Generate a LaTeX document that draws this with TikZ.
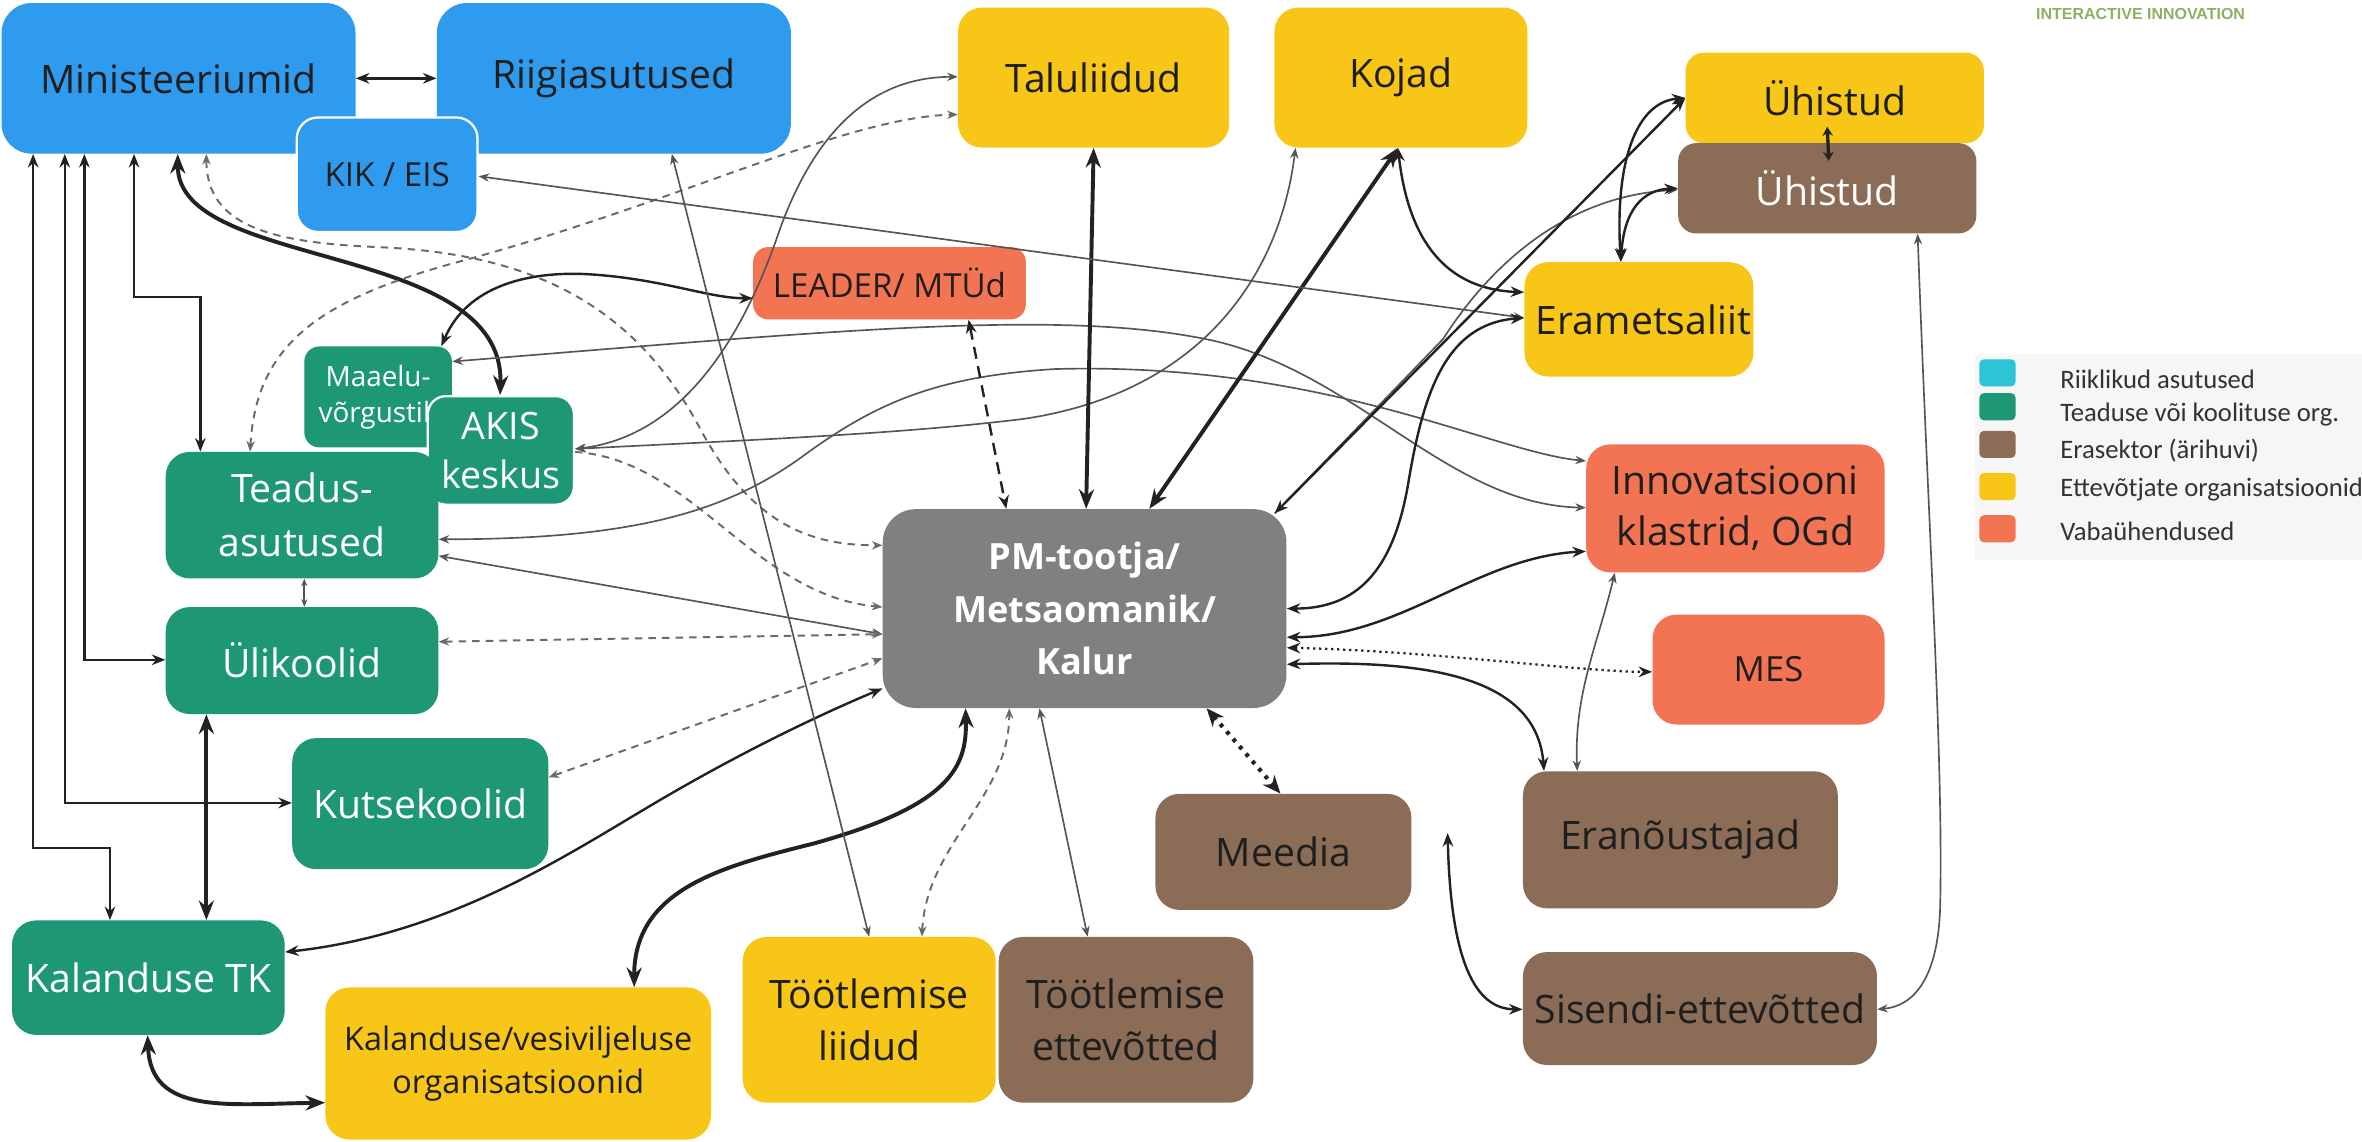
\documentclass[tikz,border=0pt]{standalone}
\usepackage{fontspec}
\setmainfont{Open Sans}
\newfontfamily\legfont{Carlito}
\newfontfamily\hdfont{Liberation Sans}
\usetikzlibrary{arrows.meta,calc}
\definecolor{cBlue}{HTML}{2F9BEE}
\definecolor{cYel}{HTML}{F8C617}
\definecolor{cTeal}{HTML}{1E9775}
\definecolor{cBrown}{HTML}{8B6C56}
\definecolor{cOr}{HTML}{F37452}
\definecolor{cGray}{HTML}{808080}
\definecolor{cCyan}{HTML}{2CC5D5}
\definecolor{cTxt}{HTML}{1E1E1E}
\definecolor{cLine}{HTML}{222222}
\definecolor{cThin}{HTML}{555555}
\definecolor{cDash}{HTML}{6A6A6A}
\definecolor{cHead}{HTML}{8BB163}
\definecolor{cLeg}{HTML}{F6F6F6}
\definecolor{cLegTxt}{HTML}{333333}
\begin{document}
\begin{tikzpicture}[x=1pt,y=-1pt,
 box/.style={rounded corners=16pt, inner sep=0pt, align=center, text=cTxt, font=\fontsize{26}{36}\selectfont},
 wt/.style={text=white},
 lnA/.style={draw=cThin, line width=1.1pt, <->, >={Stealth[length=7pt,width=5.5pt]}},
 lnD/.style={draw=cLine, line width=1.6pt, <->, >={Stealth[length=9pt,width=7pt]}},
 lnT/.style={draw=cLine, line width=2.6pt, <->, >={Stealth[length=13pt,width=10pt]}},
 lnS/.style={draw=cDash, line width=1.3pt, dash pattern=on 5pt off 4pt, >={Stealth[length=7pt,width=5.5pt]}},
 lnDD/.style={draw=cLine, line width=1.6pt, dash pattern=on 8pt off 5pt, <->, >={Stealth[length=9pt,width=7pt]}},
 lnP/.style={draw=cLine, line width=1.5pt, dash pattern=on 1.5pt off 2.5pt, <->, >={Stealth[length=9pt,width=7pt]}},
 lnPT/.style={draw=cLine, line width=2.8pt, dash pattern=on 2.5pt off 4pt, <->, >={Stealth[length=12pt,width=10pt]}},
 sw/.style={rounded corners=3pt, minimum width=24pt, minimum height=18pt, inner sep=0pt},
 legtxt/.style={anchor=west, inner sep=0pt, text=cLegTxt, font=\legfont\fontsize{17.7}{20}\selectfont}
]
\useasboundingbox (0,0) rectangle (1568,757.45);
\fill[white] (0,0) rectangle (1568,757.45);

% ---------- nodes ----------
\node[box, fill=cBlue, rounded corners=20pt, minimum width=235pt, minimum height=100pt] (min) at (118.5,52) {Ministeeriumid};
\node[box, fill=cBlue, rounded corners=20pt, minimum width=235pt, minimum height=100pt] (rii) at (407.5,52) {Riigiasutused};
\node[box, fill=cBlue, draw=white, line width=1.5pt, rounded corners=14pt, minimum width=120pt, minimum height=76pt, font=\fontsize{22}{28}\selectfont] (kik) at (257,116) {KIK / EIS};
\node[box, fill=cYel, minimum width=180pt, minimum height=93pt] (talu) at (726,51.5) {Taluliidud};
\node[box, fill=cYel, minimum width=168pt, minimum height=93pt] (koj) at (930,51.5) {Kojad};
\node[box, fill=cYel, rounded corners=12pt, minimum width=198pt, minimum height=60pt] (uhy) at (1218,65) {Ühistud};
\node[box, fill=cBrown, wt, rounded corners=12pt, minimum width=198pt, minimum height=60pt] (uhb) at (1213,125) {Ühistud};
\node[box, fill=cYel, minimum width=152pt, minimum height=76pt] (era) at (1088,212) {\hspace*{6pt}Erametsaliit};
\node[box, fill=cOr, rounded corners=10pt, minimum width=181pt, minimum height=48pt, font=\fontsize{22}{28}\selectfont] (lea) at (590.5,188) {LEADER/ MTÜd};
\node[box, fill=cTeal, wt, rounded corners=10pt, minimum width=98pt, minimum height=67pt, font=\fontsize{18.5}{24}\selectfont] (maa) at (251,263.5) {Maaelu-\\võrgustik};
\node[box, fill=cTeal, wt, draw=white, line width=1.5pt, rounded corners=12pt, minimum width=97pt, minimum height=72pt, font=\fontsize{25}{33}\selectfont] (aki) at (332.5,299) {AKIS\\keskus};
\node[box, fill=cTeal, wt, minimum width=181pt, minimum height=84pt] (tea) at (200.5,342) {Teadus-\\asutused};
\node[box, fill=cTeal, wt, minimum width=181pt, minimum height=71pt] (uli) at (200.5,438.5) {Ülikoolid};
\node[box, fill=cTeal, wt, minimum width=170pt, minimum height=87pt] (kut) at (279,533.5) {Kutsekoolid};
\node[box, fill=cTeal, wt, minimum width=181pt, minimum height=76pt] (ktk) at (98.5,649) {Kalanduse TK};
\node[box, fill=cYel, minimum width=256pt, minimum height=101pt, font=\fontsize{21.5}{29}\selectfont] (kves) at (344,706) {Kalanduse/vesiviljeluse\\organisatsioonid};
\node[box, fill=cYel, minimum width=168pt, minimum height=110pt, font=\fontsize{26}{34}\selectfont] (tli) at (577,677) {Töötlemise\\liidud};
\node[box, fill=cBrown, minimum width=169pt, minimum height=110pt, font=\fontsize{26}{34}\selectfont] (tet) at (747.5,677) {Töötlemise\\ettevõtted};
\node[box, fill=cBrown, minimum width=170pt, minimum height=77pt] (mee) at (852,565.5) {Meedia};
\node[box, fill=cGray, wt, rounded corners=22pt, minimum width=268pt, minimum height=132pt, font=\bfseries\fontsize{24}{35}\selectfont] (pm) at (720,404) {PM-tootja/\\Metsaomanik/\\Kalur};
\node[box, fill=cOr, minimum width=198pt, minimum height=85pt, font=\fontsize{26}{34}\selectfont] (inn) at (1152,337.5) {Innovatsiooni\\klastrid, OGd};
\node[box, fill=cOr, minimum width=154pt, minimum height=73pt, font=\fontsize{23}{28}\selectfont] (mes) at (1174,444.5) {MES};
\node[box, fill=cBrown, minimum width=209pt, minimum height=91pt] (ern) at (1115.5,557.5) {Eranõustajad};
\node[box, fill=cBrown, minimum width=235pt, minimum height=75pt] (sis) at (1128.5,669.5) {Sisendi-ettevõtted};

% ---------- legend ----------
\node[fill=cLeg, inner sep=0pt, minimum width=257pt, minimum height=137pt] (leg) at (1439.5,303.5) {};
\node[sw, fill=cCyan] (s1) at (1326,247.5) {};
\node[sw, fill=cTeal] (s2) at (1326,270) {};
\node[sw, fill=cBrown] (s3) at (1326,295) {};
\node[sw, fill=cYel] (s4) at (1326,323) {};
\node[sw, fill=cOr] (s5) at (1326,351) {};
\node[legtxt] (t1) at (1367.5,252) {Riiklikud asutused};
\node[legtxt] (t2) at (1367.5,275.5) {Teaduse või koolituse org.};
\node[legtxt] (t3) at (1367.5,299) {Erasektor (ärihuvi)};
\node[legtxt] (t4) at (1367.5,325) {Ettevõtjate organisatsioonid};
\node[legtxt] (t5) at (1367.5,353) {Vabaühendused};
\node[text=cHead, inner sep=0pt, font=\hdfont\bfseries\fontsize{10.6}{12}\selectfont] (hdr) at (1421,9.5) {INTERACTIVE INNOVATION};

% ---------- connectors ----------
\draw[lnD] (min.east) -- (rii.west);
\draw[lnD] (min.south -| 22,0) -- (22,563) -- (73,563) -- (ktk.north -| 73,0);
\draw[lnD] (min.south -| 43,0) -- (43,533) -- (kut.west |- 0,533);
\draw[lnD] (min.south -| 56,0) -- (56,438) -- (uli.west |- 0,438);
\draw[lnD] (min.south -| 89,0) -- (89,197) -- (133,197) -- (tea.north -| 133,0);
\draw[lnT] (min.south -| 118,0) .. controls (118,180) and (335,160) .. (aki.north -| 332,0);
\draw[lnS,<->] (min.south -| 137,0) .. controls (137,150) and (180,161) .. (250,164) .. controls (350,168) and (420,200) .. (465,285) .. controls (500,350) and (540,362) .. (pm.west |- 0,362);
\draw[lnS,->] (aki.east |- 0,300) .. controls (460,305) and (500,395) .. (pm.west |- 0,403);
\draw[lnS,<->] (tea.north -| 166,0) .. controls (170,230) and (210,200) .. (300,175) .. controls (450,135) and (560,78) .. (talu.west |- 0,76);
\draw[lnA] (aki.east |- 0,298) .. controls (450,290) and (490,230) .. (515,160) .. controls (535,100) and (570,51) .. (talu.west |- 0,51);
\draw[lnA] (aki.east |- 0,298) .. controls (500,292) and (600,288) .. (680,278) .. controls (800,260) and (850,180) .. (koj.south -| 860,0);
\draw[lnD] (maa.north -| 293,0) .. controls (310,190) and (350,180) .. (390,182) .. controls (440,185) and (470,198) .. (lea.west |- 0,198);
\draw[lnA] (maa.east |- 0,240) .. controls (550,220) and (700,205) .. (800,225) .. controls (900,245) and (960,335) .. (inn.west |- 0,337);
\draw[lnA] (tea.east |- 0,358) .. controls (420,358) and (480,340) .. (530,305) .. controls (580,268) and (620,250) .. (700,245) .. controls (880,240) and (990,300) .. (inn.west |- 0,306);
\draw[lnA] (tea.east |- 0,369) -- (pm.west |- 0,421);
\draw[lnS,<->] (uli.east |- 0,426) -- (pm.west |- 0,421);
\draw[lnS,<->] (kut.east |- 0,516) -- (pm.west |- 0,437);
\draw[lnA, >={Stealth[length=5pt,width=4pt]}] (tea.south -| 202,0) -- (uli.north -| 202,0);
\draw[lnT] (uli.south -| 137,0) -- (ktk.north -| 137,0);
\draw[lnD] (ktk.east |- 0,632) .. controls (300,620) and (380,565) .. (440,530) .. controls (500,495) and (550,472) .. (pm.west |- 0,457);
\draw[lnT] (kves.north -| 421,0) .. controls (421,590) and (480,575) .. (540,560) .. controls (630,535) and (642,510) .. (pm.south -| 641,0);
\draw[lnT] (ktk.south -| 98,0) .. controls (100,740) and (150,733) .. (kves.west |- 0,732);
\draw[lnS,<->] (tli.north -| 612,0) .. controls (615,560) and (670,530) .. (pm.south -| 670,0);
\draw[lnA] (tet.north -| 722,0) -- (pm.south -| 690,0);
\draw[lnA] (rii.south -| 446,0) -- (tli.north -| 577,0);
\draw[lnDD] (lea.south -| 643,0) -- (pm.north -| 668,0);
\draw[lnT] (talu.south -| 726,0) -- (pm.north -| 721,0);
\draw[lnT] (koj.south -| 928,0) -- (pm.north -| 763,0);
\draw[lnD] (koj.south -| 928,0) .. controls (935,160) and (960,192) .. (era.west |- 0,194);
\draw[lnA] (kik.east |- 0,117) -- (era.west |- 0,211);
\draw[lnD] (era.west |- 0,211) .. controls (960,215) and (945,260) .. (935,320) .. controls (925,380) and (900,404) .. (pm.east |- 0,404);
\draw[lnA,<-] (uhb.west |- 0,126) .. controls (1040,130) and (990,175) .. (958,225) -- ($(pm.north east)+(-8,3)$);
\draw[lnD] ($(pm.north east)+(-8,3)$) -- (uhy.west |- 0,65);
\draw[lnD] (era.north -| 1076,0) .. controls (1072,110) and (1085,68) .. (uhy.west |- 0,65);
\draw[lnD] (era.north -| 1076,0) .. controls (1078,140) and (1090,126) .. (uhb.west |- 0,125);
\draw[lnD, line width=2.2pt, >={Stealth[length=6pt,width=7pt]}] ($(uhy.south)+(-5,-11)$) -- ($(uhb.north)+(1,12)$);
\draw[lnA] (uhb.south -| 1273,0) .. controls (1280,350) and (1290,500) .. (1288,600) .. controls (1287,650) and (1270,668) .. (sis.east |- 0,670);
\draw[lnD] (pm.east |- 0,423) .. controls (930,423) and (980,370) .. (inn.west |- 0,366);
\draw[lnP] (pm.east |- 0,430) .. controls (950,432) and (1050,446) .. (mes.west |- 0,446);
\draw[lnD] (pm.east |- 0,441) .. controls (950,438) and (1020,450) .. (ern.north -| 1025,0);
\draw[lnA] (inn.south -| 1072,0) .. controls (1060,430) and (1045,460) .. (ern.north -| 1047,0);
\draw[lnPT] (pm.south -| 801,0) -- (mee.north -| 850,0);
\coordinate (free) at (961,553);
\draw[lnD] (free) .. controls (963,640) and (980,670) .. (sis.west |- 0,670);
\end{tikzpicture}
\end{document}
